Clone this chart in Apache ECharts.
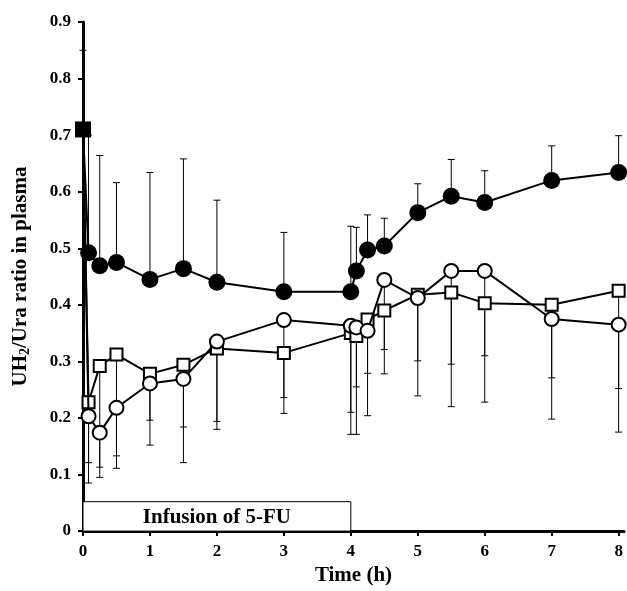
<!DOCTYPE html>
<html>
<head>
<meta charset="utf-8">
<script src="https://cdn.jsdelivr.net/npm/echarts@6.0.0/dist/echarts.min.js"></script>
<style>
  html, body { margin: 0; padding: 0; background: #fff; }
  #chart { width: 627px; height: 591px; }
</style>
</head>
<body>
<div id="chart"></div>
<script>
// 时间点 (h)
const times = [0.083, 0.25, 0.5, 1, 1.5, 2, 3, 4, 4.083, 4.25, 4.5, 5, 5.5, 6, 7, 8];
const xTicks = [0, 1, 2, 3, 4, 5, 6, 7, 8];

// 给药前基线 (filled square)
const baseTime = 0;
const baseValue = 0.71;
const baseUpper = 0.85;

// filled circles
const filledValues = [0.492, 0.469, 0.475, 0.445, 0.464, 0.440, 0.423, 0.423, 0.460, 0.497, 0.504, 0.563, 0.592, 0.581, 0.620, 0.634];
const filledUpper  = [0.700, 0.664, 0.616, 0.634, 0.658, 0.585, 0.528, 0.539, 0.537, 0.559, 0.553, 0.614, 0.657, 0.637, 0.681, 0.699];

// open circles
const openValues = [0.203, 0.174, 0.218, 0.261, 0.269, 0.335, 0.373, 0.363, 0.360, 0.354, 0.444, 0.412, 0.460, 0.460, 0.375, 0.365];
const openLower  = [0.085, 0.095, 0.111, 0.152, 0.121, 0.180, 0.208, 0.171, 0.171, 0.204, 0.278, 0.239, 0.220, 0.228, 0.198, 0.175];

// open squares
const squareValues = [0.228, 0.292, 0.312, 0.278, 0.294, 0.323, 0.315, 0.350, 0.345, 0.374, 0.390, 0.418, 0.422, 0.403, 0.400, 0.425];
const squareLower  = [0.121, 0.113, 0.133, 0.196, 0.184, 0.194, 0.236, 0.210, 0.255, 0.279, 0.321, 0.301, 0.295, 0.310, 0.271, 0.252];

// 给药区间
const infusionStart = 0;
const infusionEnd = 4;
const infusionTop = 0.052;

const font = 'Liberation Serif';

function lineData(values) {
    const d = [{ value: [baseTime, baseValue], symbol: 'none' }];
    times.forEach(function(t, i) { d.push([t, values[i]]); });
    return d;
}

function errData(values, ends) {
    return times.map(function(t, i) { return [t, values[i], ends[i]]; });
}

function renderErr(params, api) {
    const p1 = api.coord([api.value(0), api.value(1)]);
    const p2 = api.coord([api.value(0), api.value(2)]);
    const style = { stroke: '#000', lineWidth: 1 };
    return {
        type: 'group',
        children: [
            { type: 'line', shape: { x1: p1[0], y1: p1[1], x2: p2[0], y2: p2[1] }, style: style },
            { type: 'line', shape: { x1: p2[0] - 3.5, y1: p2[1], x2: p2[0] + 3.5, y2: p2[1] }, style: style }
        ]
    };
}

const chart = echarts.init(document.getElementById('chart'));
chart.setOption({
    animation: false,
    grid: { left: 83, right: 3, top: 22, bottom: 58 },
    xAxis: {
        type: 'value',
        min: 0,
        max: 8.08,
        name: 'Time (h)',
        nameLocation: 'middle',
        nameGap: 33,
        nameTextStyle: { fontFamily: font, fontWeight: 'bold', fontSize: 21, color: '#000' },
        axisLine: { lineStyle: { color: '#000', width: 3 } },
        axisTick: { customValues: xTicks, length: 5, lineStyle: { color: '#000', width: 2 } },
        axisLabel: { customValues: xTicks, fontFamily: font, fontWeight: 'bold', fontSize: 17, color: '#000', margin: 12 },
        splitLine: { show: false }
    },
    yAxis: {
        type: 'value',
        min: 0,
        max: 0.9,
        interval: 0.1,
        name: '{a|UH}{b|2}{a|/Ura ratio in plasma}',
        nameLocation: 'middle',
        nameGap: 51,
        nameTextStyle: {
            rich: {
                a: { fontFamily: font, fontWeight: 'bold', fontSize: 21, color: '#000' },
                b: { fontFamily: font, fontWeight: 'bold', fontSize: 14, color: '#000', verticalAlign: 'bottom', padding: [9, 0, 0, 0] }
            }
        },
        axisLine: { show: true, lineStyle: { color: '#000', width: 3 } },
        axisTick: { show: true, length: 5, lineStyle: { color: '#000', width: 2 } },
        axisLabel: {
            fontFamily: font, fontWeight: 'bold', fontSize: 17, color: '#000', margin: 12,
            formatter: function(v) { return v === 0 ? '0' : v.toFixed(1); }
        },
        splitLine: { show: false }
    },
    series: [
        {
            type: 'custom', renderItem: renderErr, data: errData(squareValues, squareLower), clip: false, z: 1, silent: true
        },
        {
            type: 'custom', renderItem: renderErr, data: errData(openValues, openLower), clip: false, z: 1, silent: true
        },
        {
            type: 'custom', renderItem: renderErr, data: errData(filledValues, filledUpper), clip: false, z: 1, silent: true
        },
        {
            type: 'custom', renderItem: renderErr, data: [[baseTime, baseValue, baseUpper]], clip: false, z: 1, silent: true
        },
        {
            name: 'square', type: 'line', data: lineData(squareValues), clip: false, z: 2,
            symbol: 'rect', symbolSize: 12, showAllSymbol: true,
            lineStyle: { color: '#000', width: 2 },
            itemStyle: { color: '#fff', borderColor: '#000', borderWidth: 2 },
            markArea: {
                silent: true,
                itemStyle: { color: '#fff', borderColor: '#000', borderWidth: 1 },
                label: { show: true, position: 'inside', fontFamily: font, fontWeight: 'bold', fontSize: 21, color: '#000', offset: [0, 1] },
                data: [[{ name: 'Infusion of 5-FU', coord: [infusionStart, 0] }, { coord: [infusionEnd, infusionTop] }]]
            }
        },
        {
            name: 'open', type: 'line', data: lineData(openValues), clip: false, z: 3,
            symbol: 'circle', symbolSize: 14, showAllSymbol: true,
            lineStyle: { color: '#000', width: 2 },
            itemStyle: { color: '#fff', borderColor: '#000', borderWidth: 2 }
        },
        {
            name: 'filled', type: 'line', data: lineData(filledValues), clip: false, z: 4,
            symbol: 'circle', symbolSize: 17, showAllSymbol: true,
            lineStyle: { color: '#000', width: 2 },
            itemStyle: { color: '#000' }
        },
        {
            name: 'baseline', type: 'scatter', data: [[baseTime, baseValue]], clip: false, z: 5,
            symbol: 'rect', symbolSize: 16,
            itemStyle: { color: '#000', opacity: 1 }
        }
    ]
});

window.addEventListener('resize', function() {
    chart.resize();
});
</script>
</body>
</html>
